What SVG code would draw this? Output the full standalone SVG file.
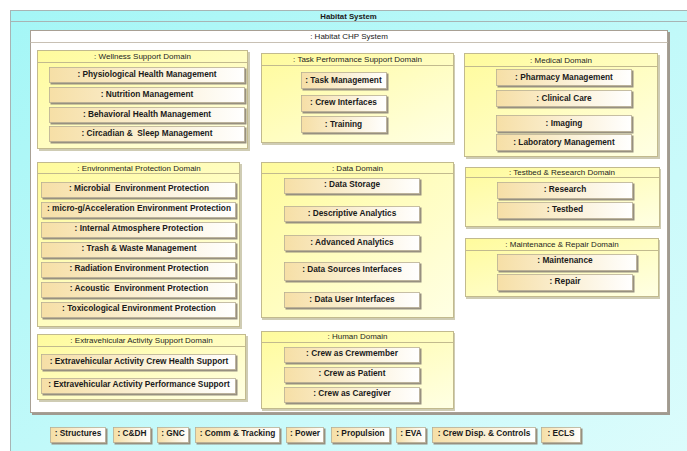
<svg xmlns="http://www.w3.org/2000/svg" width="687" height="451" viewBox="0 0 687 451">
<defs>
<linearGradient id="gOuter" x1="0" y1="0" x2="1" y2="1">
<stop offset="0" stop-color="#A4F6F6"/><stop offset="1" stop-color="#DDFCFC"/>
</linearGradient>
<linearGradient id="gDom" x1="0" y1="0" x2="1" y2="1">
<stop offset="0" stop-color="#FFFB9C"/><stop offset="1" stop-color="#FFFFE4"/>
</linearGradient>
<linearGradient id="gPart" x1="0" y1="0" x2="1" y2="0">
<stop offset="0" stop-color="#F6DFA6"/><stop offset="1" stop-color="#FFFFFF"/>
</linearGradient>
</defs>
<style>
text{font-family:"Liberation Sans",Arial,sans-serif;text-anchor:middle;dominant-baseline:central}
.outer{fill:url(#gOuter);stroke:#A8B4B4;stroke-width:1}
.otitle{font-size:7.8px;font-weight:bold;fill:#1a1a1a}
.inner{fill:#FFFFFF;stroke:#A8A094;stroke-width:1}
.ishadow{fill:#A09A90}
.dom{fill:url(#gDom);stroke:#C2BA8E;stroke-width:1}
.dshadow{fill:#CFCCB4}
.dline{stroke:#C2BA8E;stroke-width:1}
.dtitle{font-size:8px;fill:#1e1e1e}
.part{fill:url(#gPart);stroke:#B8AE94;stroke-width:0.8}
.pshadow{fill:#979080}
.ptext{font-size:8.3px;font-weight:bold;fill:#1a1a1a}
</style>

<g id="habitat-system">
<rect class="outer" x="10.5" y="10.5" width="690" height="450"/>
<line x1="10.5" y1="21.5" x2="687" y2="21.5" stroke="#A8B4B4"/>
<text class="otitle" x="348.5" y="16">Habitat System</text>
</g>

<g id="habitat-chp-system">
<rect class="ishadow" x="32" y="32" width="638" height="383"/>
<rect class="inner" x="30.5" y="30.5" width="637" height="382"/>
<line x1="30.5" y1="42.5" x2="667.5" y2="42.5" stroke="#C8C0B4"/>
<text class="otitle" style="font-weight:normal;font-size:8px" x="349" y="36.5">: Habitat CHP System</text>
</g>

<g id="wellness-support-domain">
<rect class="dshadow" x="39" y="52" width="211" height="99"/>
<rect class="dom" x="37.5" y="50.5" width="210" height="98"/>
<line class="dline" x1="37.5" y1="62.5" x2="247.5" y2="62.5"/>
<text class="dtitle" x="142.5" y="56">: Wellness Support Domain</text>
</g>
<g id="physiological-health-management">
<rect class="pshadow" x="50.5" y="68.5" width="196" height="16"/>
<rect class="part" x="49.5" y="67.5" width="195" height="15"/>
<text class="ptext" x="147" y="73.6">: Physiological Health Management</text>
</g>
<g id="nutrition-management">
<rect class="pshadow" x="50.5" y="88.5" width="196" height="16"/>
<rect class="part" x="49.5" y="87.5" width="195" height="15"/>
<text class="ptext" x="147" y="93.8">: Nutrition Management</text>
</g>
<g id="behavioral-health-management">
<rect class="pshadow" x="50.5" y="108.5" width="196" height="16"/>
<rect class="part" x="49.5" y="107.5" width="195" height="15"/>
<text class="ptext" x="147" y="113.6">: Behavioral Health Management</text>
</g>
<g id="circadian-sleep-management">
<rect class="pshadow" x="50.5" y="127.5" width="196" height="16"/>
<rect class="part" x="49.5" y="126.5" width="195" height="15"/>
<text class="ptext" x="147" y="132.6" xml:space="preserve">: Circadian &amp;  Sleep Management</text>
</g>

<g id="task-performance-support-domain">
<rect class="dshadow" x="262" y="55" width="193" height="90"/>
<rect class="dom" x="261.5" y="53.5" width="192" height="89"/>
<line class="dline" x1="261.5" y1="65.5" x2="453.5" y2="65.5"/>
<text class="dtitle" x="357.5" y="59.5">: Task Performance Support Domain</text>
</g>
<g id="task-management">
<rect class="pshadow" x="302.5" y="73.5" width="86" height="17"/>
<rect class="part" x="301.5" y="72.5" width="85" height="16"/>
<text class="ptext" x="343.5" y="80">: Task Management</text>
</g>
<g id="crew-interfaces">
<rect class="pshadow" x="302.5" y="96.5" width="86" height="17"/>
<rect class="part" x="301.5" y="95.5" width="85" height="16"/>
<text class="ptext" x="343.5" y="102">: Crew Interfaces</text>
</g>
<g id="training">
<rect class="pshadow" x="302.5" y="117.5" width="86" height="17"/>
<rect class="part" x="301.5" y="116.5" width="85" height="16"/>
<text class="ptext" x="343.5" y="124">: Training</text>
</g>

<g id="medical-domain">
<rect class="dshadow" x="466" y="55" width="194" height="104"/>
<rect class="dom" x="464.5" y="53.5" width="193" height="103"/>
<line class="dline" x1="464.5" y1="66.5" x2="657.5" y2="66.5"/>
<text class="dtitle" x="561" y="60">: Medical Domain</text>
</g>
<g id="pharmacy-management">
<rect class="pshadow" x="497.5" y="70.5" width="136" height="17"/>
<rect class="part" x="496.5" y="69.5" width="135" height="16"/>
<text class="ptext" x="564" y="76.6">: Pharmacy Management</text>
</g>
<g id="clinical-care">
<rect class="pshadow" x="497.5" y="91.5" width="136" height="17"/>
<rect class="part" x="496.5" y="90.5" width="135" height="16"/>
<text class="ptext" x="564" y="97.5">: Clinical Care</text>
</g>
<g id="imaging">
<rect class="pshadow" x="497.5" y="116.5" width="136" height="17"/>
<rect class="part" x="496.5" y="115.5" width="135" height="16"/>
<text class="ptext" x="564" y="122.5">: Imaging</text>
</g>
<g id="laboratory-management">
<rect class="pshadow" x="497.5" y="135.5" width="136" height="17"/>
<rect class="part" x="496.5" y="134.5" width="135" height="16"/>
<text class="ptext" x="564" y="141.7">: Laboratory Management</text>
</g>

<g id="environmental-protection-domain">
<rect class="dshadow" x="39" y="164" width="203" height="165"/>
<rect class="dom" x="37.5" y="162.5" width="202" height="164"/>
<line class="dline" x1="37.5" y1="173.5" x2="239.5" y2="173.5"/>
<text class="dtitle" x="139" y="168">: Environmental Protection Domain</text>
</g>
<g id="microbial-environment-protection">
<rect class="pshadow" x="42.5" y="183.5" width="195" height="16"/>
<rect class="part" x="41.5" y="182.5" width="194" height="15"/>
<text class="ptext" x="139" y="188.2" xml:space="preserve">: Microbial  Environment Protection</text>
</g>
<g id="micro-g-acceleration-environment-protection">
<rect class="pshadow" x="42.5" y="203.5" width="195" height="16"/>
<rect class="part" x="41.5" y="202.5" width="194" height="15"/>
<text class="ptext" x="139" y="208.2">: micro-g/Acceleration Environment Protection</text>
</g>
<g id="internal-atmosphere-protection">
<rect class="pshadow" x="42.5" y="223.5" width="195" height="16"/>
<rect class="part" x="41.5" y="222.5" width="194" height="15"/>
<text class="ptext" x="139" y="228.2">: Internal Atmosphere Protection</text>
</g>
<g id="trash-waste-management">
<rect class="pshadow" x="42.5" y="243.5" width="195" height="16"/>
<rect class="part" x="41.5" y="242.5" width="194" height="15"/>
<text class="ptext" x="139" y="248.2">: Trash &amp; Waste Management</text>
</g>
<g id="radiation-environment-protection">
<rect class="pshadow" x="42.5" y="263.5" width="195" height="16"/>
<rect class="part" x="41.5" y="262.5" width="194" height="15"/>
<text class="ptext" x="139" y="268.2">: Radiation Environment Protection</text>
</g>
<g id="acoustic-environment-protection">
<rect class="pshadow" x="42.5" y="283.5" width="195" height="16"/>
<rect class="part" x="41.5" y="282.5" width="194" height="15"/>
<text class="ptext" x="139" y="288.2" xml:space="preserve">: Acoustic  Environment Protection</text>
</g>
<g id="toxicological-environment-protection">
<rect class="pshadow" x="42.5" y="303.5" width="195" height="16"/>
<rect class="part" x="41.5" y="302.5" width="194" height="15"/>
<text class="ptext" x="139" y="308.2">: Toxicological Environment Protection</text>
</g>

<g id="data-domain">
<rect class="dshadow" x="262" y="164" width="193" height="156"/>
<rect class="dom" x="261.5" y="162.5" width="192" height="155"/>
<line class="dline" x1="261.5" y1="173.5" x2="453.5" y2="173.5"/>
<text class="dtitle" x="357.5" y="168">: Data Domain</text>
</g>
<g id="data-storage">
<rect class="pshadow" x="285.5" y="179.5" width="136" height="16"/>
<rect class="part" x="284.5" y="178.5" width="135" height="15"/>
<text class="ptext" x="352" y="184.4">: Data Storage</text>
</g>
<g id="descriptive-analytics">
<rect class="pshadow" x="285.5" y="207.5" width="136" height="16"/>
<rect class="part" x="284.5" y="206.5" width="135" height="15"/>
<text class="ptext" x="352" y="213">: Descriptive Analytics</text>
</g>
<g id="advanced-analytics">
<rect class="pshadow" x="285.5" y="236.5" width="136" height="16"/>
<rect class="part" x="284.5" y="235.5" width="135" height="15"/>
<text class="ptext" x="352" y="241.7">: Advanced Analytics</text>
</g>
<g id="data-sources-interfaces">
<rect class="pshadow" x="285.5" y="263.5" width="136" height="19"/>
<rect class="part" x="284.5" y="262.5" width="135" height="18"/>
<text class="ptext" x="352" y="268.5">: Data Sources Interfaces</text>
</g>
<g id="data-user-interfaces">
<rect class="pshadow" x="285.5" y="293.5" width="136" height="16"/>
<rect class="part" x="284.5" y="292.5" width="135" height="15"/>
<text class="ptext" x="352" y="298.5">: Data User Interfaces</text>
</g>

<g id="testbed-research-domain">
<rect class="dshadow" x="466" y="169" width="195" height="60"/>
<rect class="dom" x="465.5" y="167.5" width="194" height="59"/>
<line class="dline" x1="465.5" y1="177.5" x2="659.5" y2="177.5"/>
<text class="dtitle" x="562" y="172">: Testbed &amp; Research Domain</text>
</g>
<g id="research">
<rect class="pshadow" x="498.5" y="183.5" width="136" height="17"/>
<rect class="part" x="497.5" y="182.5" width="135" height="16"/>
<text class="ptext" x="565" y="188.5">: Research</text>
</g>
<g id="testbed">
<rect class="pshadow" x="498.5" y="203.5" width="136" height="17"/>
<rect class="part" x="497.5" y="202.5" width="135" height="16"/>
<text class="ptext" x="565" y="208.5">: Testbed</text>
</g>

<g id="maintenance-repair-domain">
<rect class="dshadow" x="466" y="240" width="194" height="59"/>
<rect class="dom" x="465.5" y="238.5" width="193" height="58"/>
<line class="dline" x1="465.5" y1="250.5" x2="658.5" y2="250.5"/>
<text class="dtitle" x="562" y="244">: Maintenance &amp; Repair Domain</text>
</g>
<g id="maintenance">
<rect class="pshadow" x="498.5" y="255.5" width="140" height="17"/>
<rect class="part" x="497.5" y="254.5" width="139" height="16"/>
<text class="ptext" x="565" y="260.3">: Maintenance</text>
</g>
<g id="repair">
<rect class="pshadow" x="498.5" y="275.5" width="136" height="17"/>
<rect class="part" x="497.5" y="274.5" width="135" height="16"/>
<text class="ptext" x="565" y="280.7">: Repair</text>
</g>

<g id="extravehicular-activity-support-domain">
<rect class="dshadow" x="39" y="336" width="209" height="66"/>
<rect class="dom" x="37.5" y="334.5" width="208" height="65"/>
<line class="dline" x1="37.5" y1="346.5" x2="245.5" y2="346.5"/>
<text class="dtitle" x="141.5" y="340">: Extravehicular Activity Support Domain</text>
</g>
<g id="eva-crew-health-support">
<rect class="pshadow" x="42.5" y="355.5" width="195" height="16"/>
<rect class="part" x="41.5" y="354.5" width="194" height="15"/>
<text class="ptext" x="139" y="360.7">: Extravehicular Activity Crew Health Support</text>
</g>
<g id="eva-performance-support">
<rect class="pshadow" x="42.5" y="379.5" width="195" height="16"/>
<rect class="part" x="41.5" y="378.5" width="194" height="15"/>
<text class="ptext" x="139" y="384.4">: Extravehicular Activity Performance Support</text>
</g>

<g id="human-domain">
<rect class="dshadow" x="262" y="333" width="193" height="78"/>
<rect class="dom" x="261.5" y="331.5" width="192" height="77"/>
<line class="dline" x1="261.5" y1="342.5" x2="453.5" y2="342.5"/>
<text class="dtitle" x="357.5" y="336.5">: Human Domain</text>
</g>
<g id="crew-as-crewmember">
<rect class="pshadow" x="285.5" y="348.5" width="136" height="16"/>
<rect class="part" x="284.5" y="347.5" width="135" height="15"/>
<text class="ptext" x="352" y="352.8">: Crew as Crewmember</text>
</g>
<g id="crew-as-patient">
<rect class="pshadow" x="285.5" y="368.5" width="136" height="16"/>
<rect class="part" x="284.5" y="367.5" width="135" height="15"/>
<text class="ptext" x="352" y="372.8">: Crew as Patient</text>
</g>
<g id="crew-as-caregiver">
<rect class="pshadow" x="285.5" y="388.5" width="136" height="16"/>
<rect class="part" x="284.5" y="387.5" width="135" height="15"/>
<text class="ptext" x="352" y="392.8">: Crew as Caregiver</text>
</g>

<g id="structures">
<rect class="pshadow" x="51.5" y="428.5" width="56" height="16"/>
<rect class="part" x="50.5" y="427.5" width="55" height="15"/>
<text class="ptext" x="78" y="433">: Structures</text>
</g>
<g id="cdh">
<rect class="pshadow" x="114.5" y="428.5" width="38" height="16"/>
<rect class="part" x="113.5" y="427.5" width="37" height="15"/>
<text class="ptext" x="132" y="433">: C&amp;DH</text>
</g>
<g id="gnc">
<rect class="pshadow" x="158.5" y="428.5" width="32" height="16"/>
<rect class="part" x="157.5" y="427.5" width="31" height="15"/>
<text class="ptext" x="173" y="433">: GNC</text>
</g>
<g id="comm-tracking">
<rect class="pshadow" x="196.5" y="428.5" width="85" height="16"/>
<rect class="part" x="195.5" y="427.5" width="84" height="15"/>
<text class="ptext" x="237.5" y="433">: Comm &amp; Tracking</text>
</g>
<g id="power">
<rect class="pshadow" x="287.5" y="428.5" width="38" height="16"/>
<rect class="part" x="286.5" y="427.5" width="37" height="15"/>
<text class="ptext" x="305" y="433">: Power</text>
</g>
<g id="propulsion">
<rect class="pshadow" x="332.5" y="428.5" width="59" height="16"/>
<rect class="part" x="331.5" y="427.5" width="58" height="15"/>
<text class="ptext" x="360.5" y="433">: Propulsion</text>
</g>
<g id="eva">
<rect class="pshadow" x="397.5" y="428.5" width="30" height="16"/>
<rect class="part" x="396.5" y="427.5" width="29" height="15"/>
<text class="ptext" x="411" y="433">: EVA</text>
</g>
<g id="crew-disp-controls">
<rect class="pshadow" x="433.5" y="428.5" width="104" height="16"/>
<rect class="part" x="432.5" y="427.5" width="103" height="15"/>
<text class="ptext" x="484" y="433">: Crew Disp. &amp; Controls</text>
</g>
<g id="ecls">
<rect class="pshadow" x="542.5" y="428.5" width="40" height="16"/>
<rect class="part" x="541.5" y="427.5" width="39" height="15"/>
<text class="ptext" x="561" y="433">: ECLS</text>
</g>

<g id="connectors"/>
</svg>
